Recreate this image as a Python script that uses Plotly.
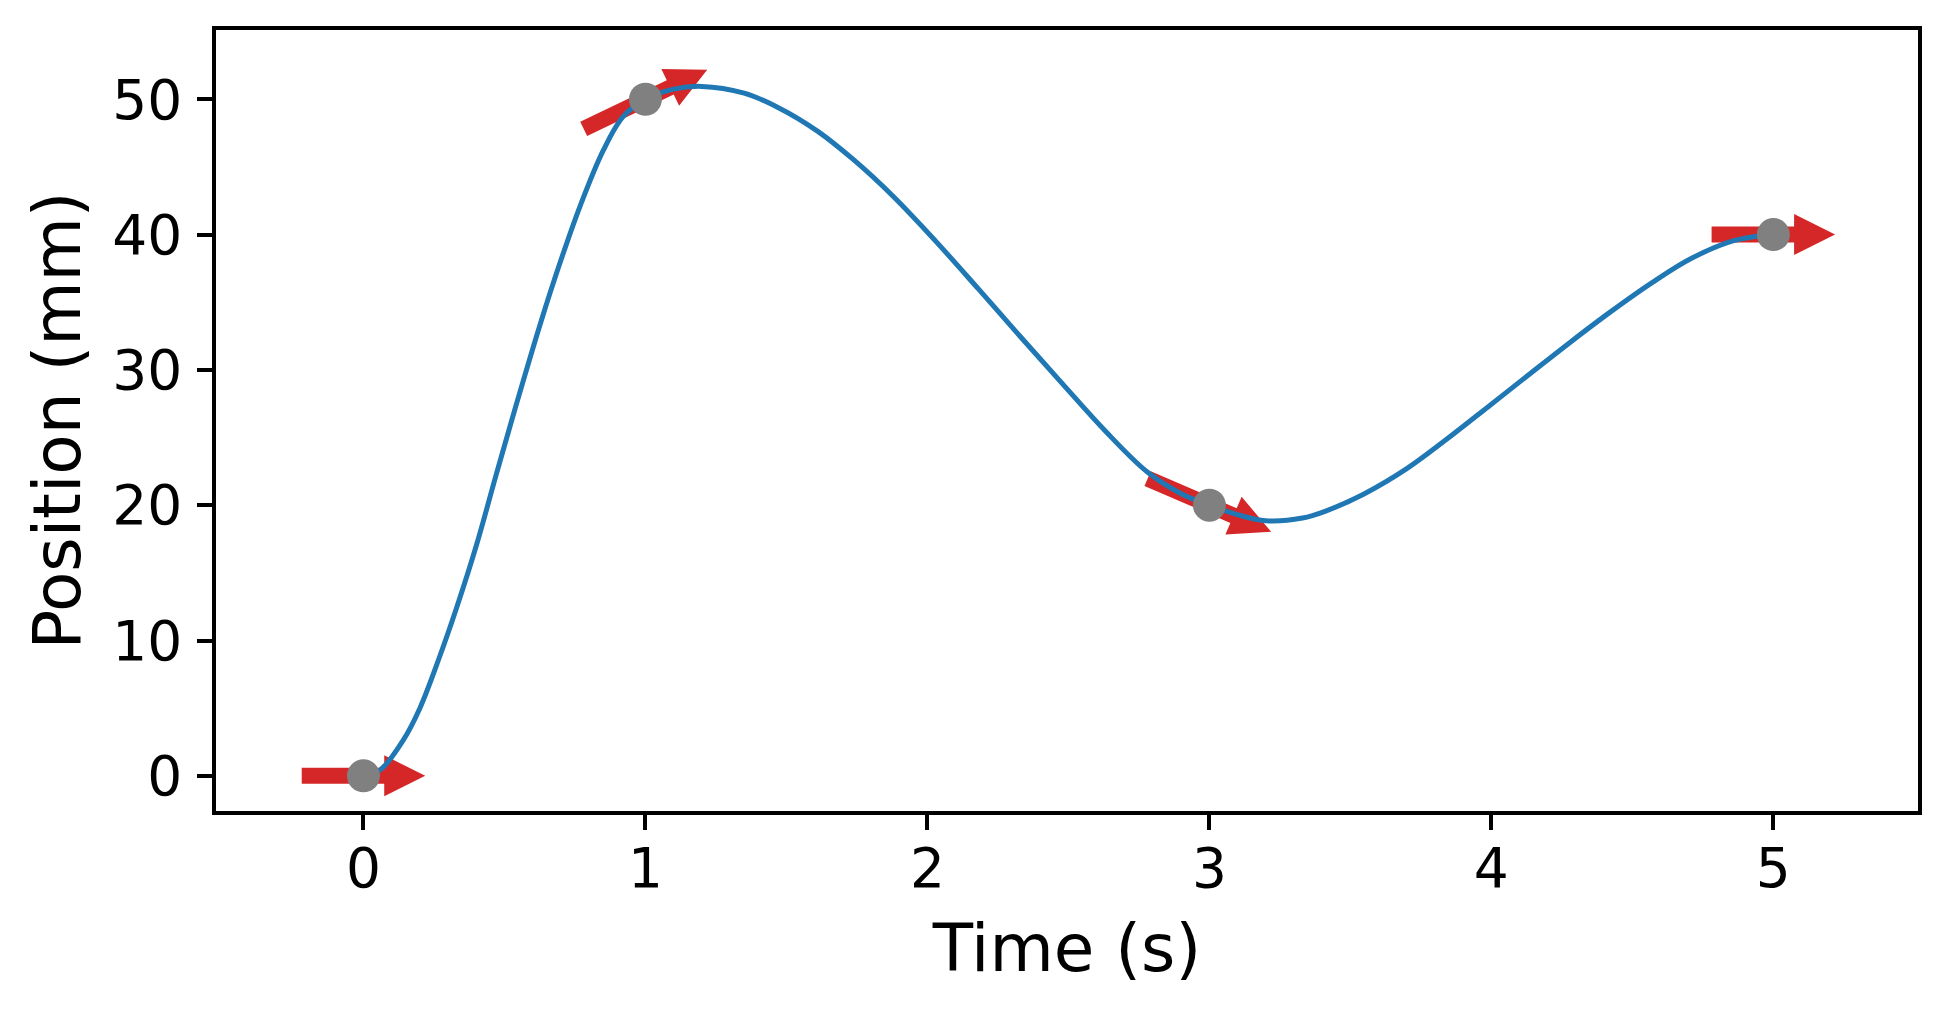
import numpy as np
import plotly.graph_objects as go

# trajectory
time_s = [0, 0.06, 0.14, 0.2, 0.27, 0.33, 0.4, 0.47, 0.54, 0.63, 0.7, 0.77, 0.85, 0.92,
          1.0, 1.1, 1.2, 1.35, 1.47, 1.61, 1.74, 1.88, 2.03, 2.18, 2.33, 2.48, 2.63, 2.78,
          2.9, 3.0, 3.1, 3.2, 3.33, 3.41, 3.55, 3.7, 3.84, 3.99, 4.13, 4.28, 4.42, 4.57,
          4.71, 4.86, 5.0]
position_mm = [0, 0.45, 2.6, 5.0, 8.8, 12.4, 17.0, 22.2, 27.3, 33.6, 38.1, 42.2, 46.2, 48.7,
               50.0, 50.75, 50.95, 50.45, 49.4, 47.65, 45.5, 42.8, 39.5, 36.0, 32.45, 28.95, 25.5, 22.45,
               20.85, 20.0, 19.3, 18.85, 19.05, 19.55, 20.85, 22.7, 24.85, 27.3, 29.6, 32.05, 34.25, 36.45,
               38.25, 39.55, 40.0]

# waypoints and velocity (mm/s) at each of them
wp_time = [0, 1, 3, 5]
wp_pos = [0, 50, 20, 40]
wp_vel = [0, 10, -9, 0]

W, H = 1948, 1011
MARGIN = dict(l=216, r=30, t=30, b=200)
X_RANGE = [-0.523, 5.513]
Y_RANGE = [-2.6, 55.12]

# arrow look (pixels), arrows span +-HALF_DT seconds around a waypoint
HALF_DT = 0.219
SHAFT_W = 16
HEAD_W = 41
HEAD_L = 41

sx = (W - MARGIN["l"] - MARGIN["r"]) / (X_RANGE[1] - X_RANGE[0])
sy = (H - MARGIN["t"] - MARGIN["b"]) / (Y_RANGE[1] - Y_RANGE[0])

arrow_x, arrow_y = [], []
for t, p, v in zip(wp_time, wp_pos, wp_vel):
    d = np.array([HALF_DT * sx, HALF_DT * v * sy])
    c = np.array([t * sx, p * sy])
    u = d / np.linalg.norm(d)
    n = np.array([-u[1], u[0]])
    tail, tip = c - d, c + d
    base = tip - HEAD_L * u
    outline = [tail + n * SHAFT_W / 2, base + n * SHAFT_W / 2, base + n * HEAD_W / 2, tip,
               base - n * HEAD_W / 2, base - n * SHAFT_W / 2, tail - n * SHAFT_W / 2]
    for q in outline:
        arrow_x.append(q[0] / sx)
        arrow_y.append(q[1] / sy)
    arrow_x.append(None)
    arrow_y.append(None)

fig = go.Figure()
fig.add_trace(go.Scatter(x=arrow_x, y=arrow_y, mode="lines", fill="toself",
                         fillcolor="#d62728", line=dict(width=0, color="#d62728"),
                         hoverinfo="skip", showlegend=False))
fig.add_trace(go.Scatter(x=time_s, y=position_mm, mode="lines",
                         line=dict(color="#1f77b4", width=5, shape="spline", smoothing=1.0),
                         showlegend=False))
fig.add_trace(go.Scatter(x=wp_time, y=wp_pos, mode="markers",
                         marker=dict(color="#808080", size=33, line=dict(width=0)),
                         showlegend=False))

axis_common = dict(
    showgrid=False, zeroline=False, showline=True, linecolor="black", linewidth=3.5,
    mirror=True, ticks="outside", ticklen=15, tickwidth=3.5, tickcolor="black",
    tickfont=dict(size=55, color="black"),
)
fig.update_xaxes(range=X_RANGE, tickvals=[0, 1, 2, 3, 4, 5], ticklabelstandoff=-9,
                 title=dict(text="Time (s)", font=dict(size=66, color="black"), standoff=27),
                 **axis_common)
fig.update_yaxes(range=Y_RANGE, tickvals=[0, 10, 20, 30, 40, 50], ticklabelstandoff=4,
                 title=dict(text="Position (mm)", font=dict(size=66, color="black"), standoff=11),
                 **axis_common)

fig.update_layout(
    width=W, height=H, margin=dict(**MARGIN, pad=0),
    plot_bgcolor="white", paper_bgcolor="white",
    font=dict(family="DejaVu Sans", color="black"),
)

fig.write_html("out.html", config={"displayModeBar": False},
               post_script="document.body.style.margin='0';document.body.style.overflow='hidden';")
